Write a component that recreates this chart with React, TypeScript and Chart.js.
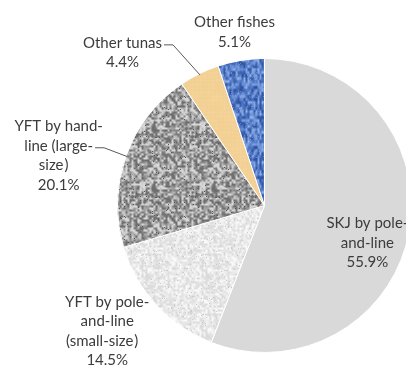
import React, { useEffect, useRef } from "react";
import { Chart, registerables } from "chart.js";

Chart.register(...registerables);

// Catch composition by species / gear (share of total, %)
const CATEGORIES = [
  "SKJ by pole-and-line",
  "YFT by pole-and-line (small-size)",
  "YFT by hand-line (large-size)",
  "Other tunas",
  "Other fishes",
];
const SHARES = [55.9, 14.5, 20.1, 4.4, 5.1];

// Wrapped label text for each slice; the percentage line is added from SHARES
const LABEL_LINES = [
  ["SKJ by pole-", "and-line"],
  ["YFT by pole-", "and-line", "(small-size\u3000"],
  ["YFT by hand-", "line (large-", "size\u3000"],
  ["Other tunas"],
  ["Other fishes"],
];

// Label block centres, in units of the pie radius from the pie centre
const LABEL_POS: [number, number][] = [
  [0.70, 0.255],
  [-1.07, 0.854],
  [-1.40, -0.34],
  [-0.966, -1.04],
  [-0.204, -1.18],
];

// Leader lines: which text line they leave from (null = none)
const LEADER_LINE: (number | null)[] = [null, null, 1, 0, null];

const FONT = '15px Lato, "Noto Sans CJK JP", sans-serif';
const TEXT_COLOR = "#3c3c3c";
const LINE_HEIGHT = 19.5;

function hash(x: number, y: number, s: number): number {
  let h = Math.imul(x, 374761393) ^ Math.imul(y, 668265263) ^ Math.imul(s, 1442695041);
  h = Math.imul(h ^ (h >>> 13), 1274126177);
  h = h ^ (h >>> 16);
  return (h >>> 0) / 4294967295;
}

type ColorFn = (v: number, e: number, x: number, y: number) => [number, number, number];

function makeTile(
  ctx: CanvasRenderingContext2D,
  size: number,
  cellX: number,
  cellY: number,
  seed: number,
  colorFn: ColorFn
): CanvasPattern | string {
  const c = document.createElement("canvas");
  c.width = size;
  c.height = size;
  const tctx = c.getContext("2d");
  if (!tctx) return "#cccccc";
  const img = tctx.createImageData(size, size);
  const nx = Math.round(size / cellX);
  const ny = Math.round(size / cellY);
  const val = (i: number, j: number) => hash(((i % nx) + nx) % nx, ((j % ny) + ny) % ny, seed);
  for (let y = 0; y < size; y++) {
    for (let x = 0; x < size; x++) {
      const gx = x / cellX;
      const gy = y / cellY;
      const i0 = Math.floor(gx);
      const j0 = Math.floor(gy);
      let fx = gx - i0;
      let fy = gy - j0;
      fx = fx * fx * (3 - 2 * fx);
      fy = fy * fy * (3 - 2 * fy);
      const a = val(i0, j0) * (1 - fx) + val(i0 + 1, j0) * fx;
      const b = val(i0, j0 + 1) * (1 - fx) + val(i0 + 1, j0 + 1) * fx;
      const v = a * (1 - fy) + b * fy;
      const e = hash(x, y, seed + 101);
      const [r, g, bl] = colorFn(v, e, x, y);
      const k = (y * size + x) * 4;
      img.data[k] = r;
      img.data[k + 1] = g;
      img.data[k + 2] = bl;
      img.data[k + 3] = 255;
    }
  }
  tctx.putImageData(img, 0, 0);
  return ctx.createPattern(c, "repeat") || "#cccccc";
}

const mix = (p: number[], q: number[], t: number): [number, number, number] => [
  p[0] + (q[0] - p[0]) * t,
  p[1] + (q[1] - p[1]) * t,
  p[2] + (q[2] - p[2]) * t,
];

function buildFills(ctx: CanvasRenderingContext2D): (CanvasPattern | string)[] {
  const skj = "#d9d9d9";
  const smallYft = makeTile(ctx, 60, 2, 2, 3, (v, e) => {
    let g = 214 + v * 38;
    if (e < 0.025) g = 200;
    return [g, g, g];
  });
  const largeYft = makeTile(ctx, 60, 2, 2, 11, (v, e) => {
    const t = Math.min(1, Math.max(0, (v - 0.15) / 0.7));
    let g = 110 + t * 105;
    if (e < 0.015) g = 85;
    return [g, g, g];
  });
  const tunas = makeTile(ctx, 48, 4, 4, 5, (v, _e, x, y) => {
    const base = [242, 207, 145];
    const light = [247, 222, 175];
    let t = v * 0.2;
    if (x % 4 === 0 || y % 4 === 0) t += 0.12;
    return mix(base, light, t);
  });
  const fishes = makeTile(ctx, 60, 2, 3, 17, (v, e) => {
    const dark = [44, 78, 152];
    const mid = [82, 122, 200];
    const light = [150, 180, 232];
    let c = v < 0.5 ? mix(dark, mid, v / 0.5) : mix(mid, light, (v - 0.5) / 0.5);
    if (e < 0.04) c = mix(c, light, 0.5);
    return c;
  });
  return [skj, smallYft, largeYft, tunas, fishes];
}

const labelPlugin = {
  id: "sliceLabels",
  afterDatasetsDraw(chart: Chart) {
    const ctx = chart.ctx;
    const meta = chart.getDatasetMeta(0);
    const data = chart.data.datasets[0].data as number[];
    ctx.save();
    ctx.font = FONT;
    ctx.fillStyle = TEXT_COLOR;
    ctx.strokeStyle = "#595959";
    ctx.lineWidth = 1;
    ctx.textAlign = "center";
    ctx.textBaseline = "middle";
    meta.data.forEach((el: any, i: number) => {
      const { x: cx, y: cy, outerRadius: r, startAngle, endAngle } = el.getProps(
        ["x", "y", "outerRadius", "startAngle", "endAngle"],
        true
      );
      const lines = [...LABEL_LINES[i], `${data[i].toFixed(1)}%`];
      const bx = cx + LABEL_POS[i][0] * r;
      const by = cy + LABEL_POS[i][1] * r;
      const top = by - ((lines.length - 1) * LINE_HEIGHT) / 2;
      lines.forEach((t, k) => {
        // full-width closing bracket drawn in place of the ideographic space
        if (t.endsWith("\u3000")) {
          const body = t.slice(0, -1);
          const wBody = ctx.measureText(body).width;
          const wAll = ctx.measureText(t).width;
          const left = bx - wAll / 2;
          ctx.textAlign = "left";
          ctx.fillText(body, left, top + k * LINE_HEIGHT);
          ctx.fillText(")", left + wBody + 1, top + k * LINE_HEIGHT);
          ctx.textAlign = "center";
        } else {
          ctx.fillText(t, bx, top + k * LINE_HEIGHT);
        }
      });

      const li = LEADER_LINE[i];
      if (li !== null) {
        const w = ctx.measureText(lines[li]).width;
        const sx = bx + w / 2 + 2;
        const sy = top + li * LINE_HEIGHT + 2;
        const mid = (startAngle + endAngle) / 2;
        const ex = cx + Math.cos(mid) * r * 0.99;
        const ey = cy + Math.sin(mid) * r * 0.99;
        ctx.beginPath();
        ctx.moveTo(sx, sy);
        ctx.lineTo(sx + 9, sy);
        ctx.lineTo(ex, ey);
        ctx.stroke();
      }
    });
    ctx.restore();
  },
};

export default function App() {
  const canvasRef = useRef<HTMLCanvasElement | null>(null);

  useEffect(() => {
    const canvas = canvasRef.current;
    if (!canvas) return;
    const ctx = canvas.getContext("2d");
    if (!ctx) return;
    const fills = buildFills(ctx);
    const chart = new Chart(canvas, {
      type: "pie",
      data: {
        labels: CATEGORIES,
        datasets: [
          {
            data: SHARES,
            backgroundColor: fills as any,
            borderColor: "#ffffff",
            borderWidth: 1,
          },
        ],
      },
      options: {
        responsive: false,
        animation: false,
        devicePixelRatio: 1,
        events: [],
        layout: { padding: { left: 117, right: 8, top: 58, bottom: 12 } },
        plugins: {
          legend: { display: false },
          tooltip: { enabled: false },
        },
      },
      plugins: [labelPlugin],
    });
    return () => chart.destroy();
  }, []);

  return (
    <div
      style={{
        position: "absolute",
        left: 0,
        top: 0,
        width: 406,
        height: 365,
        overflow: "hidden",
        background: "#ffffff",
      }}
    >
      <canvas ref={canvasRef} width={420} height={365} style={{ width: 420, height: 365 }} />
    </div>
  );
}
